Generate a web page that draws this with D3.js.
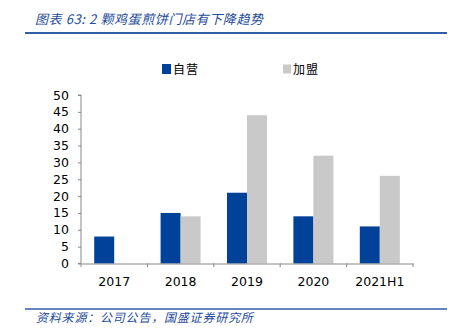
<!DOCTYPE html>
<html><head><meta charset="utf-8">
<script src="https://cdn.jsdelivr.net/npm/d3@7"></script>
<style>body{margin:0;background:#fff}svg{display:block}</style>
</head><body>
<svg id="c" width="451" height="333"></svg>
<script>
const categories = ["2017","2018","2019","2020","2021H1"];
const selfRun = [8,15,21,14,11];
const franchise = [null,14,44,32,26];
const seriesNames = ["自营","加盟"];
const yTicks = [0,5,10,15,20,25,30,35,40,45,50];
const colors = ["#00429a","#c9c9c9"];

const svg = d3.select("#c");
const x0 = d3.scaleBand().domain(categories).range([81,413]);
const y = d3.scaleLinear().domain([0,50]).range([263.5,95]);
const barW = 20;

// title
svg.append("text").attr("x",35).attr("y",24).attr("font-family","Noto Sans CJK SC").attr("font-size",13)
  .attr("font-style","italic").attr("letter-spacing",0.6).attr("fill","#1e4c9a").text("图表 63:  2 颗鸡蛋煎饼门店有下降趋势");
svg.append("line").attr("x1",25).attr("x2",447).attr("y1",33).attr("y2",33).attr("stroke","#2f5fa6").attr("stroke-width",2);

// bars
const data = [selfRun, franchise];
data.forEach((arr,si)=>{
  svg.append("g").selectAll("rect").data(categories.map((c,i)=>({c,v:arr[i]})).filter(d=>d.v!=null))
    .join("rect")
    .attr("x",d=>x0(d.c)+x0.bandwidth()/2 - barW + si*barW)
    .attr("y",d=>y(d.v)).attr("width",barW).attr("height",d=>y(0)-y(d.v))
    .attr("fill",colors[si]);
});

// y axis
const yAxis = d3.axisLeft(y).tickValues(yTicks).tickSize(3).tickPadding(9);
const gy = svg.append("g").attr("transform","translate(81,0)").call(yAxis);
gy.select(".domain").attr("stroke","#888").attr("d","M-3,95H0V263.5H-3");
gy.selectAll(".tick line").attr("stroke","#888");
gy.selectAll("text").attr("font-family","DejaVu Sans").attr("font-size",12.5).attr("fill","#000");

// x axis
const xAxis = d3.axisBottom(x0).tickSize(0).tickPadding(14);
const gx = svg.append("g").attr("transform","translate(0,263.5)").call(xAxis);
gx.select(".domain").attr("stroke","#888");
gx.selectAll("text").attr("font-family","DejaVu Sans").attr("font-size",12.5).attr("fill","#000");
const bounds = categories.map(c=>x0(c)).concat([413]);
svg.append("g").selectAll("line").data(bounds).join("line")
  .attr("x1",d=>d).attr("x2",d=>d).attr("y1",263.5).attr("y2",267).attr("stroke","#888");

// legend
const leg = [{n:seriesNames[0],x:162,s:9},{n:seriesNames[1],x:283,s:8}];
leg.forEach((l,i)=>{
  svg.append("rect").attr("x",l.x).attr("y",69-l.s/2-0.5).attr("width",l.s).attr("height",l.s+1).attr("fill",colors[i]);
  svg.append("text").attr("x",l.x+l.s+2).attr("y",73.5).attr("font-family","Noto Sans CJK SC")
    .attr("font-size",12).attr("letter-spacing",1).attr("fill","#000").text(l.n);
});

// footer
svg.append("line").attr("x1",25).attr("x2",447).attr("y1",309).attr("y2",309).attr("stroke","#2f5fa6").attr("stroke-width",1.5);
svg.append("text").attr("x",36).attr("y",322).attr("font-family","Noto Sans CJK SC").attr("font-size",12)
  .attr("font-style","italic").attr("letter-spacing",0.8).attr("fill","#1e4c9a").text("资料来源：公司公告，国盛证券研究所");
</script>
</body></html>
